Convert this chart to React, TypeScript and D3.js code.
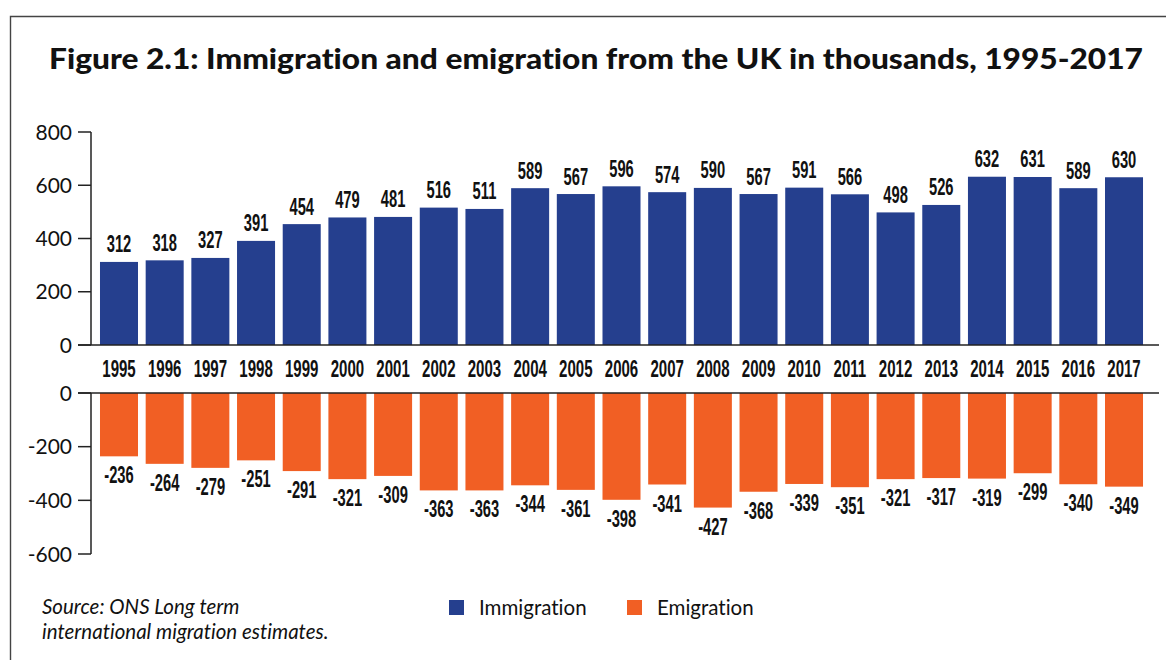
import React from "react";
import * as d3 from "d3";

const years = ["1995","1996","1997","1998","1999","2000","2001","2002","2003","2004","2005","2006","2007","2008","2009","2010","2011","2012","2013","2014","2015","2016","2017"];
const immigration = [312,318,327,391,454,479,481,516,511,589,567,596,574,590,567,591,566,498,526,632,631,589,630];
const emigration = [-236,-264,-279,-251,-291,-321,-309,-363,-363,-344,-361,-398,-341,-427,-368,-339,-351,-321,-317,-319,-299,-340,-349];
const topTicks = [0, 200, 400, 600, 800];
const bottomTicks = [0, -200, -400, -600];
const seriesNames = ["Immigration", "Emigration"];
const sourceLines = ["Source: ONS Long term", "international migration estimates."];

const BLUE = "#253F8E";
const ORANGE = "#F15F24";
const INK = "#111";
const SANS = "Lato, 'Open Sans', 'Liberation Sans', sans-serif";
const COND = "'Liberation Sans', Arial, sans-serif";
const noLig = { fontVariantLigatures: "none" as const };

export default function App() {
  const W = 1166, H = 660;
  const axisX = 91, axisRight = 1159;
  const x = d3.scaleBand<string>().domain(years).range([96.15, 1146.85]).paddingInner(0.168).paddingOuter(0.084);
  const yTop = d3.scaleLinear().domain([0, 800]).range([345, 132]);
  const yBot = d3.scaleLinear().domain([-600, 0]).range([554, 393]);
  const bw = x.bandwidth();
  const condScale = 0.64;

  return (
    <svg width={W} height={H} style={{ position: "absolute", left: 0, top: 0, background: "#fff" }}>
      <rect x={0} y={0} width={W} height={H} fill="#fff" />
      {/* frame */}
      <path d={`M10.5,${H} V16.5 H${W}`} fill="none" stroke="#444" strokeWidth={1.4} />
      {/* title */}
      <text x={49} y={69} fontFamily={SANS} fontWeight={900} fontSize={29} fill={INK} textLength={1094} lengthAdjust="spacingAndGlyphs" style={noLig}>
        Figure 2.1: Immigration and emigration from the UK in thousands, 1995-2017
      </text>

      {/* top bars */}
      {years.map((yr, i) => (
        <rect key={"i" + yr} x={x(yr)} y={yTop(immigration[i])} width={bw} height={yTop(0) - yTop(immigration[i])} fill={BLUE} />
      ))}
      {years.map((yr, i) => (
        <text key={"il" + yr} transform={`translate(${(x(yr) as number) + bw / 2},${yTop(immigration[i]) - 9.5}) scale(${condScale},1)`}
          textAnchor="middle" fontFamily={COND} fontWeight={700} fontSize={23} fill={INK}>
          {immigration[i]}
        </text>
      ))}
      {/* bottom bars */}
      {years.map((yr, i) => (
        <rect key={"e" + yr} x={x(yr)} y={yBot(0)} width={bw} height={yBot(emigration[i]) - yBot(0)} fill={ORANGE} />
      ))}
      {years.map((yr, i) => (
        <text key={"el" + yr} transform={`translate(${(x(yr) as number) + bw / 2},${yBot(emigration[i]) + 27}) scale(${condScale},1)`}
          textAnchor="middle" fontFamily={COND} fontWeight={700} fontSize={23} fill={INK}>
          {emigration[i]}
        </text>
      ))}
      {/* year labels */}
      {years.map((yr) => (
        <text key={"y" + yr} transform={`translate(${(x(yr) as number) + bw / 2},377) scale(${condScale},1)`}
          textAnchor="middle" fontFamily={COND} fontWeight={700} fontSize={23.5} fill={INK}>
          {yr}
        </text>
      ))}

      {/* top axis */}
      <line x1={axisX} x2={axisX} y1={yTop(800)} y2={yTop(0)} stroke="#222" strokeWidth={1.5} />
      <line x1={78} x2={axisRight} y1={yTop(0)} y2={yTop(0)} stroke="#222" strokeWidth={1.5} />
      {topTicks.map((t) => (
        <g key={"tt" + t}>
          <line x1={78} x2={axisX} y1={yTop(t)} y2={yTop(t)} stroke="#222" strokeWidth={1.5} />
          <text x={72} y={yTop(t)} dy="0.36em" textAnchor="end" fontFamily={SANS} fontSize={21} fill={INK}>{t}</text>
        </g>
      ))}
      {/* bottom axis */}
      <line x1={axisX} x2={axisX} y1={yBot(0)} y2={yBot(-600)} stroke="#222" strokeWidth={1.5} />
      <line x1={78} x2={axisRight} y1={yBot(0)} y2={yBot(0)} stroke="#222" strokeWidth={1.5} />
      {bottomTicks.map((t) => (
        <g key={"bt" + t}>
          <line x1={78} x2={axisX} y1={yBot(t)} y2={yBot(t)} stroke="#222" strokeWidth={1.5} />
          <text x={72} y={yBot(t)} dy="0.36em" textAnchor="end" fontFamily={SANS} fontSize={21} fill={INK}>{t}</text>
        </g>
      ))}

      {/* source */}
      <text x={42} y={614} fontFamily={SANS} fontStyle="italic" fontSize={20.5} fill={INK} style={noLig}>{sourceLines[0]}</text>
      <text x={42} y={639} fontFamily={SANS} fontStyle="italic" fontSize={20.5} fill={INK} style={noLig}>{sourceLines[1]}</text>

      {/* legend */}
      <rect x={449} y={600} width={15} height={15} fill={BLUE} />
      <text x={479} y={615} fontFamily={SANS} fontSize={20.5} fill={INK} style={noLig}>{seriesNames[0]}</text>
      <rect x={627} y={600} width={15} height={15} fill={ORANGE} />
      <text x={657} y={615} fontFamily={SANS} fontSize={20.5} fill={INK} style={noLig}>{seriesNames[1]}</text>
    </svg>
  );
}
